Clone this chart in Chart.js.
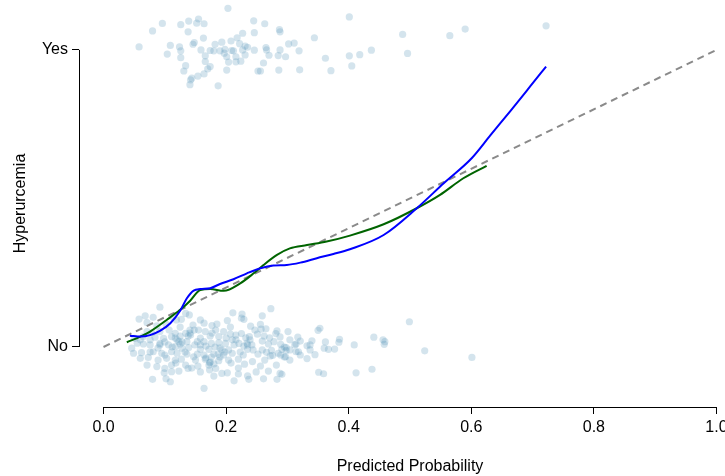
<!DOCTYPE html>
<html>
<head>
<meta charset="utf-8">
<script src="https://cdn.jsdelivr.net/npm/chart.js@4/dist/chart.umd.min.js"></script>
<style>
html,body{margin:0;padding:0;background:#fff;overflow:hidden;}
#wrap{width:725px;height:476px;overflow:hidden;position:relative;}
canvas{display:block;}
</style>
</head>
<body>
<div id="wrap"><canvas id="c" width="741" height="476" style="width:741px;height:476px"></canvas></div>
<script>
// ---- data ----
const xTicks = [0, 0.2, 0.4, 0.6, 0.8, 1.0];
const yTicks = [0, 1];
const yTickLabels = ['No', 'Yes'];
const xTitle = 'Predicted Probability';
const yTitle = 'Hyperurcemia';

const diagX = [0, 1];
const diagY = [0, 1];

const blueX = [0.043,0.060,0.076,0.092,0.109,0.125,0.136,0.147,0.158,0.174,0.190,0.212,0.234,0.256,0.277,0.299,0.321,0.348,0.375,0.402,0.457,0.511,0.555,0.601,0.631,0.664,0.696,0.722];
const blueY = [0.038,0.035,0.040,0.054,0.080,0.122,0.164,0.190,0.195,0.198,0.212,0.228,0.248,0.265,0.274,0.276,0.284,0.299,0.313,0.329,0.377,0.467,0.551,0.636,0.712,0.795,0.877,0.944];

const greenX = [0.038,0.060,0.076,0.103,0.125,0.141,0.158,0.174,0.196,0.223,0.245,0.261,0.283,0.304,0.332,0.364,0.402,0.457,0.511,0.549,0.587,0.625];
const greenY = [0.016,0.035,0.052,0.091,0.125,0.155,0.192,0.195,0.189,0.214,0.248,0.276,0.310,0.332,0.343,0.355,0.375,0.413,0.467,0.512,0.568,0.610];

// jittered observed outcomes (Yes = 1, No = 0), [predicted probability, jittered outcome]
const yesPoints = [
[0.203,1.140],[0.155,1.104],[0.139,1.097],[0.096,1.089],[0.126,1.085],[0.152,1.090],[0.164,1.088],[0.245,1.098],[0.263,1.088],[0.401,1.111],
[0.080,1.064],[0.138,1.061],[0.227,1.056],[0.246,1.058],[0.287,1.068],[0.288,1.061],[0.218,1.041],[0.163,1.040],[0.344,1.041],[0.058,1.010],
[0.109,1.015],[0.124,1.010],[0.146,1.019],[0.148,1.025],[0.182,1.019],[0.193,1.026],[0.208,1.030],[0.222,1.021],[0.231,1.013],[0.235,1.009],
[0.265,1.008],[0.302,1.020],[0.311,1.023],[0.266,1.000],[0.126,0.997],[0.104,0.986],[0.159,1.000],[0.174,0.998],[0.180,0.997],[0.190,0.997],
[0.198,1.002],[0.197,0.989],[0.209,0.998],[0.212,0.997],[0.227,1.000],[0.246,0.999],[0.288,1.000],[0.319,0.997],[0.437,0.999],[0.418,0.984],
[0.401,0.980],[0.126,0.974],[0.166,0.980],[0.201,0.977],[0.216,0.977],[0.231,0.983],[0.270,0.982],[0.285,0.981],[0.297,0.977],[0.362,0.972],
[0.166,0.961],[0.204,0.959],[0.216,0.960],[0.224,0.962],[0.261,0.956],[0.134,0.947],[0.174,0.944],[0.405,0.946],[0.131,0.929],[0.170,0.936],
[0.201,0.932],[0.252,0.929],[0.256,0.929],[0.286,0.932],[0.320,0.933],[0.371,0.930],[0.164,0.919],[0.154,0.912],[0.144,0.905],[0.142,0.899],
[0.141,0.883],[0.187,0.879],[0.488,1.052],[0.565,1.048],[0.590,1.070],[0.496,0.988],[0.722,1.081]
];

const noPoints = [
[0.499,0.085],[0.353,0.063],[0.350,0.056],[0.301,0.052],[0.317,0.033],[0.321,0.020],[0.312,0.007],[0.332,0.004],[0.340,0.021],[0.362,0.017],
[0.385,0.026],[0.384,0.016],[0.409,0.007],[0.441,0.033],[0.456,0.024],[0.459,0.018],[0.458,0.009],[0.289,0.009],[0.298,-0.002],[0.291,-0.008],
[0.298,-0.012],[0.318,-0.016],[0.337,-0.010],[0.360,-0.004],[0.367,-0.008],[0.377,-0.007],[0.524,-0.013],[0.289,-0.027],[0.297,-0.033],[0.345,-0.026],
[0.332,-0.039],[0.601,-0.035],[0.351,-0.085],[0.359,-0.090],[0.412,-0.087],[0.438,-0.075],[0.291,-0.092],
[0.273,0.129],[0.226,0.111],[0.259,0.105],[0.225,0.097],[0.229,0.093],[0.240,0.070],[0.256,0.076],[0.257,0.060],[0.265,0.061],[0.283,0.054],
[0.281,0.045],[0.216,0.040],[0.225,0.045],[0.232,0.031],[0.238,0.035],[0.251,0.043],[0.262,0.037],[0.271,0.031],[0.278,0.018],[0.295,0.000],
[0.221,0.012],[0.235,0.007],[0.235,-0.008],[0.252,-0.024],[0.266,-0.018],[0.274,-0.011],[0.276,-0.028],[0.285,-0.021],[0.295,-0.034],[0.314,0.010],
[0.314,-0.016],[0.220,-0.041],[0.230,-0.058],[0.243,-0.049],[0.256,-0.064],[0.269,-0.081],[0.288,-0.089],[0.220,-0.091],[0.235,-0.097],[0.237,-0.109],
[0.261,-0.107],[0.283,-0.109],[0.213,-0.114],
[0.211,0.115],[0.134,0.113],[0.140,0.108],[0.119,0.091],[0.127,0.093],[0.164,0.080],[0.202,0.089],[0.146,0.074],[0.177,0.072],[0.185,0.077],
[0.155,0.057],[0.166,0.052],[0.183,0.057],[0.196,0.052],[0.207,0.043],[0.117,0.046],[0.134,0.046],[0.125,0.037],[0.142,0.040],[0.174,0.037],
[0.188,0.035],[0.123,0.018],[0.136,0.018],[0.153,0.018],[0.164,0.018],[0.176,0.012],[0.188,0.014],[0.199,0.012],[0.213,0.007],[0.117,0.001],
[0.128,-0.004],[0.139,-0.002],[0.158,-0.008],[0.172,-0.008],[0.193,-0.010],[0.204,-0.010],[0.120,-0.021],[0.136,-0.024],[0.147,-0.033],[0.164,-0.027],
[0.180,-0.024],[0.196,-0.027],[0.210,-0.021],[0.117,-0.044],[0.127,-0.041],[0.150,-0.044],[0.166,-0.041],[0.173,-0.053],[0.188,-0.046],[0.204,-0.044],
[0.134,-0.061],[0.154,-0.064],[0.172,-0.061],[0.173,-0.077],[0.183,-0.072],[0.193,-0.089],[0.202,-0.087],[0.123,-0.081],[0.138,-0.072],[0.164,-0.139],
[0.092,0.134],[0.068,0.105],[0.081,0.100],[0.113,0.102],[0.071,0.082],[0.087,0.071],[0.102,0.077],[0.071,0.052],[0.079,0.048],[0.092,0.052],
[0.107,0.057],[0.051,0.029],[0.065,0.035],[0.084,0.033],[0.098,0.029],[0.111,0.035],[0.046,-0.004],[0.065,0.010],[0.076,0.007],[0.092,0.012],
[0.106,0.007],[0.049,-0.021],[0.062,-0.019],[0.081,-0.016],[0.095,-0.021],[0.111,-0.016],[0.060,-0.038],[0.073,-0.035],[0.089,-0.044],[0.103,-0.038],
[0.071,-0.061],[0.087,-0.066],[0.100,-0.072],[0.111,-0.061],[0.099,-0.087],[0.111,-0.083],[0.080,-0.109],[0.102,-0.107],[0.109,-0.117],[0.058,0.094],
[0.076,0.024],[0.100,0.017],[0.125,0.010],[0.149,0.007],[0.167,0.003],[0.182,0.000],[0.200,0.030],[0.216,0.024],[0.223,-0.017],[0.242,0.007],
[0.259,0.020],[0.269,0.010],[0.304,0.024],[0.055,0.013],[0.089,-0.003],[0.112,0.000],[0.133,-0.017],[0.153,-0.024],[0.176,-0.034],[0.190,-0.034],
[0.208,-0.054],[0.228,-0.027],[0.244,-0.010],[0.263,-0.044],[0.282,-0.061],[0.304,-0.044],[0.118,-0.054],[0.144,-0.071],[0.158,-0.084],[0.180,-0.098],
[0.220,-0.071],[0.249,-0.084],[0.141,0.057],[0.158,0.030],[0.177,0.047],[0.125,0.067],
[0.120,0.024],[0.117,0.030],[0.128,0.017],[0.141,0.047],[0.148,0.057],[0.138,0.037],[0.190,-0.003],[0.198,-0.017],[0.187,-0.024],[0.174,-0.051],
[0.167,-0.037],[0.180,-0.057],[0.234,0.013],[0.239,0.024],[0.229,0.003],[0.092,0.007],[0.100,-0.027],[0.076,-0.017],[0.158,0.007],[0.210,0.024],
[0.259,-0.010],[0.272,-0.030],[0.247,0.057],[0.304,-0.010],[0.321,-0.027],[0.337,0.007],[0.158,0.091],[0.207,0.067],[0.288,0.034],[0.060,0.024]
];

// ---- chart ----
const toXY = (xs, ys) => xs.map((x, i) => ({x: x, y: ys[i]}));
const pairs = (arr) => arr.map(p => ({x: p[0], y: p[1]}));

Chart.defaults.font.family = "'Liberation Sans', Arial, Helvetica, sans-serif";
Chart.defaults.font.size = 16;
Chart.defaults.color = '#000';

const axisLines = {
  id: 'axisLines',
  afterDraw(chart) {
    const {ctx, chartArea, scales} = chart;
    const xs = scales.x, ys = scales.y;
    ctx.save();
    ctx.strokeStyle = '#000';
    ctx.lineWidth = 1;
    ctx.beginPath();
    const by = Math.round(chartArea.bottom) + 0.5;
    ctx.moveTo(xs.getPixelForValue(xTicks[0]), by);
    ctx.lineTo(xs.getPixelForValue(xTicks[xTicks.length - 1]), by);
    const lx = Math.round(chartArea.left) + 0.5;
    ctx.moveTo(lx, ys.getPixelForValue(yTicks[0]));
    ctx.lineTo(lx, ys.getPixelForValue(yTicks[yTicks.length - 1]));
    ctx.stroke();
    ctx.restore();
  }
};

function fixX(s) { s.height = 69; s.paddingLeft = 0; s.paddingRight = 0; s.paddingTop = 0; s.paddingBottom = 0; }
function fixY(s) { s.width = 79; s.paddingLeft = 0; s.paddingRight = 0; s.paddingTop = 0; s.paddingBottom = 0; }

new Chart(document.getElementById('c'), {
  type: 'scatter',
  data: {
    datasets: [
      {type: 'line', data: toXY(blueX, blueY), borderColor: '#0000FF', borderWidth: 2, pointRadius: 0, fill: false, cubicInterpolationMode: 'monotone', order: 1},
      {type: 'line', data: toXY(greenX, greenY), borderColor: '#006400', borderWidth: 2, pointRadius: 0, fill: false, cubicInterpolationMode: 'monotone', order: 2},
      {type: 'line', data: toXY(diagX, diagY), borderColor: '#8a8a8a', borderWidth: 2, borderDash: [7, 5], pointRadius: 0, fill: false, order: 3},
      {data: pairs(yesPoints), backgroundColor: 'rgba(90,150,185,0.26)', borderWidth: 0, pointRadius: 3.6, order: 4},
      {data: pairs(noPoints), backgroundColor: 'rgba(90,150,185,0.26)', borderWidth: 0, pointRadius: 3.6, order: 5}
    ]
  },
  options: {
    responsive: false,
    devicePixelRatio: 1,
    animation: false,
    layout: {padding: 0, autoPadding: false},
    plugins: {legend: {display: false}, tooltip: {enabled: false}},
    scales: {
      x: {
        type: 'linear', min: -0.04, max: 1.04,
        afterBuildTicks: (s) => { s.ticks = xTicks.map(v => ({value: v})); },
        afterFit: fixX,
        ticks: {callback: (v) => v.toFixed(1), padding: 4, maxRotation: 0, autoSkip: false, font: {size: 16}},
        grid: {display: true, drawOnChartArea: false, drawTicks: true, tickLength: 7, color: '#000', lineWidth: 1},
        border: {display: false},
        title: {display: true, text: xTitle, font: {size: 16}, padding: {top: 0, bottom: 0}}
      },
      y: {
        type: 'linear', min: -0.202, max: 1.168,
        afterBuildTicks: (s) => { s.ticks = yTicks.map(v => ({value: v})); },
        afterFit: fixY,
        ticks: {callback: (v) => yTickLabels[yTicks.indexOf(v)], padding: 4, autoSkip: false, font: {size: 16}},
        grid: {display: true, drawOnChartArea: false, drawTicks: true, tickLength: 7, color: '#000', lineWidth: 1},
        border: {display: false},
        title: {display: true, text: yTitle, font: {size: 16}, padding: {top: 11, bottom: 0}}
      }
    }
  },
  plugins: [axisLines]
});
</script>
</body>
</html>
